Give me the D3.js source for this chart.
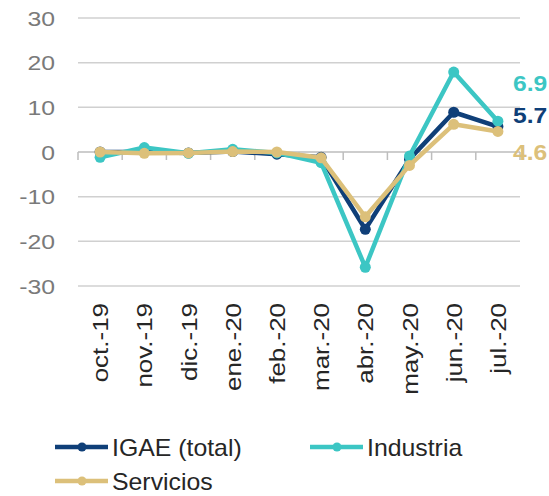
<!DOCTYPE html>
<html><head><meta charset="utf-8">
<script src="https://cdn.jsdelivr.net/npm/d3@7"></script>
<style>body{margin:0;background:#fff;} svg{display:block;font-family:"Liberation Sans",Arial,sans-serif;}</style>
</head><body>
<svg id="c" width="549" height="496"></svg>
<script>
const categories = ["oct.-19","nov.-19","dic.-19","ene.-20","feb.-20","mar.-20","abr.-20","may.-20","jun.-20","jul.-20"];
const igae      = [0.0, 0.0, -0.2, 0.1, -0.5, -1.2, -17.3, -1.6, 8.9, 5.7];
const industria = [-1.2, 1.0, -0.3, 0.6, -0.2, -2.4, -25.8, -0.9, 17.9, 6.9];
const servicios = [0.0, -0.3, -0.2, 0.1, 0.0, -1.3, -14.5, -3.0, 6.2, 4.6];
const yTicks = [-30,-20,-10,0,10,20,30];
const seriesNames = ["IGAE (total)","Industria","Servicios"];
const seriesColors = ["#0f3f78","#3cc6c4","#dcc07a"];
const endLabels = ["5.7","6.9","4.6"];

const svg = d3.select("#c");
const x = d3.scaleBand().domain(categories).range([78,520]).padding(0);
const y = d3.scaleLinear().domain([-30,30]).range([286,18]);
const cx = d => x(d) + x.bandwidth()/2;
const SX = 1.18;

// gridlines
svg.append("g").selectAll("line").data(yTicks.filter(t=>t!==0)).join("line")
  .attr("x1",78).attr("x2",520).attr("y1",d=>y(d)).attr("y2",d=>y(d))
  .attr("stroke","#d0d0d0").attr("stroke-width",1.5);

// y labels
svg.append("g").selectAll("text").data(yTicks).join("text")
  .attr("transform",d=>`translate(55,${y(d)+7.5}) scale(${SX},1)`)
  .attr("text-anchor","end").attr("font-size",21).attr("fill","#7a7a7a")
  .text(d=>d);

// zero axis with ticks
const ax = svg.append("g");
ax.append("line").attr("x1",78).attr("x2",520).attr("y1",y(0)).attr("y2",y(0))
  .attr("stroke","#bdbdbd").attr("stroke-width",1.5);
const edges = categories.map(c=>x(c)).concat([520]);
ax.selectAll("line.t").data(edges).join("line").attr("class","t")
  .attr("x1",d=>d).attr("x2",d=>d).attr("y1",y(0)).attr("y2",y(0)+8)
  .attr("stroke","#bdbdbd").attr("stroke-width",1.5);

// x labels
svg.append("g").selectAll("text").data(categories).join("text")
  .attr("transform",d=>`translate(${cx(d)+8},303) rotate(-90) scale(${SX},1)`)
  .attr("text-anchor","end").attr("font-size",22).attr("fill","#262626")
  .text(d=>d);

// series
const allSeries = [igae, industria, servicios];
const line = d3.line().x((d,i)=>cx(categories[i])).y(d=>y(d));
allSeries.forEach((vals,si)=>{
  const g = svg.append("g");
  g.append("path").datum(vals).attr("d",line).attr("fill","none")
    .attr("stroke",seriesColors[si]).attr("stroke-width",4.5).attr("stroke-linejoin","round");
  g.selectAll("circle").data(vals).join("circle")
    .attr("cx",(d,i)=>cx(categories[i])).attr("cy",d=>y(d)).attr("r",5.5)
    .attr("fill",seriesColors[si]);
});

// end labels
const endY = [123, 91, 160];
endLabels.forEach((t,i)=>{
  svg.append("text").attr("transform",`translate(513,${endY[i]}) scale(1.12,1)`)
    .attr("font-size",22).attr("font-weight","bold").attr("fill",seriesColors[i]).text(t);
});

// legend
const legPos = [[55,447],[310,447],[55,481]];
seriesNames.forEach((n,i)=>{
  const [lx,ly] = legPos[i];
  const g = svg.append("g");
  g.append("line").attr("x1",lx).attr("x2",lx+53).attr("y1",ly).attr("y2",ly)
    .attr("stroke",seriesColors[i]).attr("stroke-width",4.5);
  g.append("circle").attr("cx",lx+27).attr("cy",ly).attr("r",4.5).attr("fill",seriesColors[i]);
  g.append("text").attr("transform",`translate(${lx+57},${ly+8.5}) scale(1.08,1)`)
    .attr("font-size",23).attr("fill","#262626").text(n);
});
</script>
</body></html>
